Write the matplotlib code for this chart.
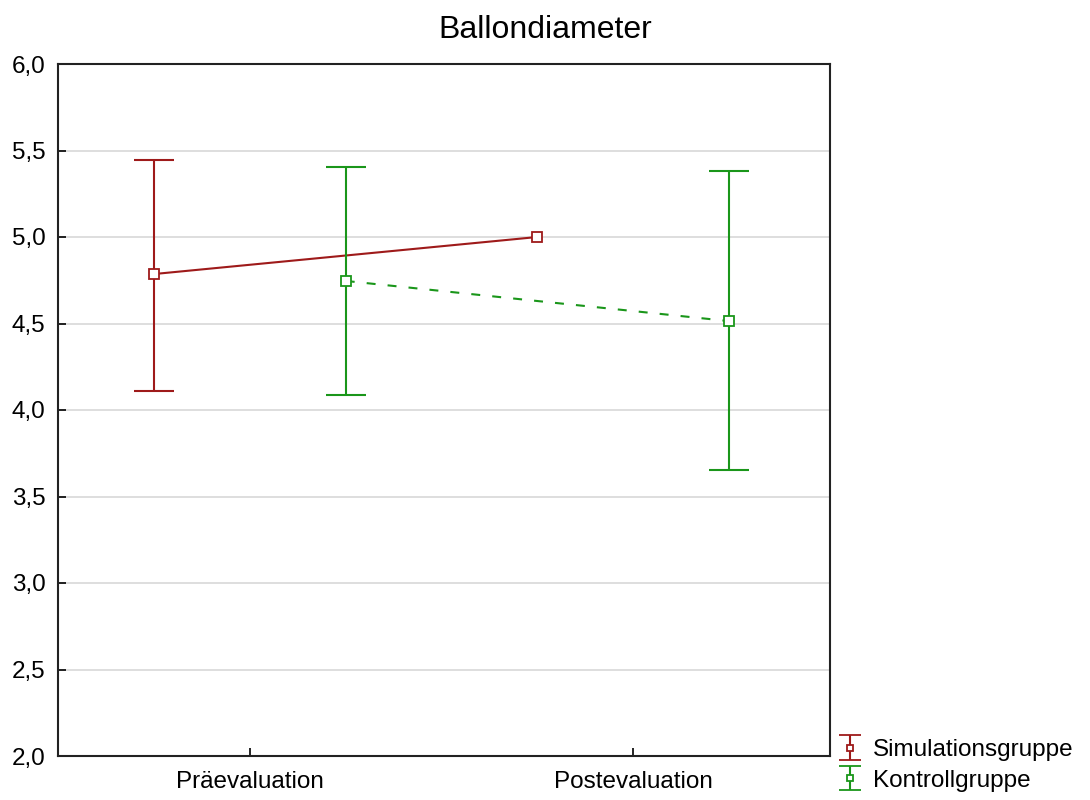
import matplotlib
matplotlib.use("Agg")
import matplotlib.pyplot as plt
from matplotlib.ticker import FuncFormatter
import numpy as np

plt.rcParams['font.family'] = ['Liberation Sans', 'DejaVu Sans']

title = "Ballondiameter"
categories = ["Präevaluation", "Postevaluation"]
groups = ["Simulationsgruppe", "Kontrollgruppe"]
sim_mean = [4.786, 5.0]
sim_low = [4.110, np.nan]
sim_high = [5.445, np.nan]
kon_mean = [4.746, 4.514]
kon_low = [4.087, 3.653]
kon_high = [5.405, 5.382]
yticks = [2.0, 2.5, 3.0, 3.5, 4.0, 4.5, 5.0, 5.5, 6.0]

red = '#9e1a1a'
green = '#1a961a'

fig = plt.figure(figsize=(10.9, 8.0), dpi=100)
ax = fig.add_axes([58/1090, 1-756/800, (830-58)/1090, (756-64)/800])

x = np.arange(len(categories))
off = 0.25

def draw(xs, mean, low, high, color, ls, label):
    mean = np.array(mean); low = np.array(low); high = np.array(high)
    if ls == '--':
        ax.plot(xs, mean, color=color, ls='--', lw=1.5, dashes=(4.3, 5.8), zorder=3)
    else:
        ax.plot(xs, mean, color=color, ls='-', lw=1.5, zorder=3)
    err = np.vstack([mean - low, high - mean])
    mask = ~np.isnan(low)
    ax.errorbar(xs[mask], mean[mask], yerr=err[:, mask], fmt='none', ecolor=color,
                elinewidth=1.5, capsize=14.4, capthick=1.5, zorder=3)
    ax.plot(xs, mean, ls='none', marker='s', ms=6.5, mfc='white', mec=color, mew=1.3, zorder=4)
    h = ax.errorbar([np.nan], [np.nan], yerr=[[0.1]], fmt='s', color=color, ms=5, mfc='white',
                    mec=color, mew=1.3, elinewidth=1.5, capsize=8, capthick=1.5, label=label)
    return h

h1 = draw(x - off, sim_mean, sim_low, sim_high, red, '-', groups[0])
h2 = draw(x + off, kon_mean, kon_low, kon_high, green, '--', groups[1])

ax.set_xlim(-0.501, 1.514)
ax.set_ylim(2.0, 6.0)
ax.set_yticks(yticks)
ax.yaxis.set_major_formatter(FuncFormatter(lambda v, p: f"{v:.1f}".replace('.', ',')))
ax.set_xticks(x)
ax.set_xticklabels(categories)
ax.tick_params(direction='in', length=6, width=1.2, labelsize=17.5, colors='black')
ax.tick_params(axis='x', pad=11)
ax.tick_params(axis='y', pad=9)
ax.grid(axis='y', color='#d8d8d8', lw=1.2, zorder=0)
ax.set_axisbelow(True)
for s in ax.spines.values():
    s.set_linewidth(1.5)
    s.set_color('#222222')
fig.text(0.5, 1 - 30/800, title, fontsize=23, ha='center', va='center')

fig.legend(handles=[h1, h2], labels=groups, loc='upper left', bbox_to_anchor=(838/1090, 1-739/800),
           frameon=False, fontsize=17.5, handlelength=1.0, handletextpad=0.45, labelspacing=0.35,
           borderaxespad=0, borderpad=0)

fig.savefig("out.png", dpi=100)
